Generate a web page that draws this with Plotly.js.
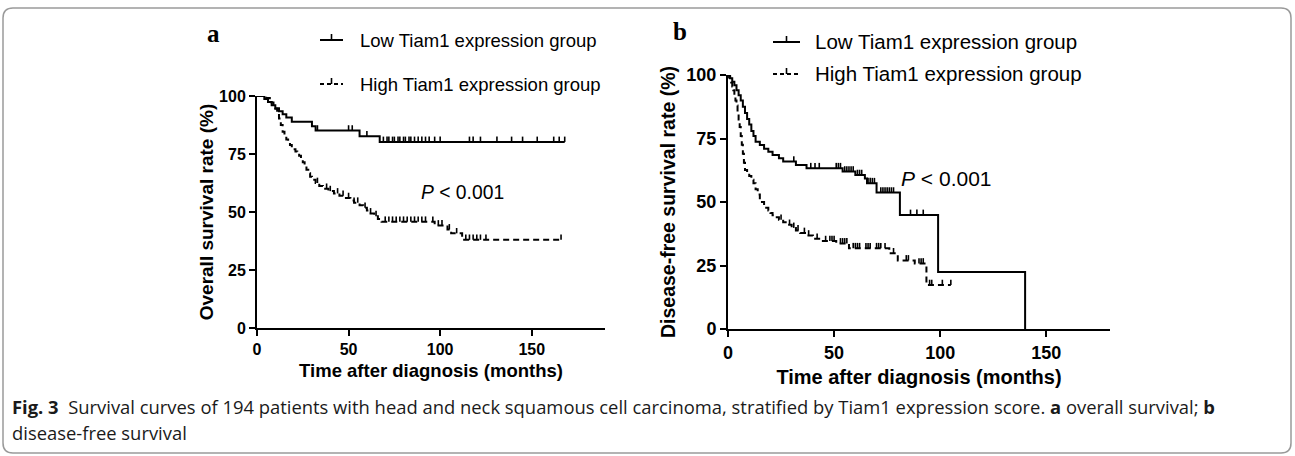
<!DOCTYPE html>
<html><head><meta charset="utf-8">
<script src="https://cdn.plot.ly/plotly-3.0.1.min.js"></script>
<style>html,body{margin:0;padding:0;background:#fff}#chart{width:1295px;height:456px}</style>
</head><body><div id="chart"></div>
<script>
// ---------- Panel a: overall survival ----------
var lowOS_t = [4, 6, 8, 10, 12, 14, 16, 19, 30, 32, 56, 67];
var lowOS_s = [98.7, 97.4, 96.0, 94.7, 93.4, 92.1, 90.7, 88.9, 87.0, 85.1, 82.6, 80.2];
var lowOS_cens = [33, 50, 52, 60, 69, 71, 72, 74, 75, 77, 78, 80, 81, 83, 84, 86, 88, 90, 92, 94, 97, 100, 116, 118, 122, 131, 139, 145, 153, 162, 165, 168];

var highOS_t = [5, 7, 8, 9, 10, 11, 12, 13, 14, 15, 16, 17, 18, 19, 20, 21, 22, 23, 24, 25, 26, 27, 28, 29, 30, 32, 34, 36, 39, 42, 45, 48, 51, 53, 56, 58, 60, 62, 64, 66, 68, 97, 104, 106, 112];
var highOS_s = [99.1, 98.2, 97.2, 96.3, 94.5, 92.6, 90.3, 87.5, 84.6, 82.7, 81.2, 80.0, 78.9, 77.9, 77.0, 76.1, 75.2, 74.2, 72.9, 71.4, 69.8, 68.2, 66.7, 65.2, 63.9, 62.5, 61.2, 60.0, 59.0, 58.0, 57.0, 56.0, 55.0, 54.0, 52.9, 51.8, 50.6, 49.4, 48.2, 47.0, 45.8, 44.2, 42.5, 40.8, 38.0];
var highOS_cens = [33, 38, 40, 44, 47, 50, 53, 55, 59, 62, 65, 70, 72, 74, 76, 78, 80, 82, 84, 86, 88, 90, 92, 96, 99, 101, 105, 109, 114, 116, 118, 120, 122, 125, 166];

// ---------- Panel b: disease-free survival ----------
var lowDFS_t = [1, 2, 3, 4, 5, 6, 7, 8, 9, 10, 11, 12, 13, 15, 17, 19, 21, 24, 26, 32, 37, 54, 60, 64.5, 65.5, 70, 81, 99, 140];
var lowDFS_s = [98.7, 97.3, 96.0, 94.0, 92.0, 90.0, 87.5, 85.0, 82.7, 80.5, 78.0, 76.0, 73.7, 72.4, 71.0, 69.8, 68.5, 67.2, 65.9, 64.6, 63.3, 62.0, 60.6, 59.3, 57.4, 53.7, 44.9, 22.4, 0];
var lowDFS_cens = [31, 39, 41, 43, 51, 52, 53, 55, 56, 57, 58, 59, 61, 62, 63, 66, 67, 68, 69, 72, 73, 74, 75, 76, 77, 78, 86, 89, 92];

var highDFS_t = [0.5, 1, 1.5, 2, 2.5, 3, 3.5, 4, 4.5, 5, 5.5, 6, 6.5, 7, 7.5, 8, 9, 10, 11, 12, 13, 14, 15, 16, 17, 18, 19, 20, 21, 22, 24, 26, 28, 30, 32, 34, 37, 40, 44, 51, 57, 76, 80, 88, 93.5];
var highDFS_s = [99, 98, 97, 95.5, 94, 92, 90, 88, 85.5, 82.5, 79.5, 76, 72.5, 69, 65.5, 62.6, 61.5, 60.2, 58.8, 57.4, 55.0, 53.0, 51.5, 50.0, 48.8, 47.7, 46.7, 45.7, 44.8, 44.0, 43.0, 42.0, 41.0, 39.8, 38.8, 37.8, 36.8, 35.5, 34.6, 33.7, 31.8, 29.8, 27.0, 25.8, 17.3];
var highDFS_cens = [25, 29, 31, 33, 36, 38, 42, 46, 48, 49, 50, 53, 54, 55, 56, 59, 60, 61, 62, 65, 66, 67, 70, 71, 72, 74, 78, 84, 85, 90, 91, 92, 95, 96, 101, 105];

var xTicks = [0, 50, 100, 150];
var yTicks = [0, 25, 50, 75, 100];
var groupNames = ['Low Tiam1 expression group', 'High Tiam1 expression group'];

// ---------- helpers ----------
function survAt(t, s, c) {
  var v = 100;
  for (var i = 0; i < t.length; i++) { if (t[i] <= c) v = s[i]; }
  return v;
}
function stepTrace(t, s, cens, xa, ya, dash, name) {
  var x = [0], y = [100];
  for (var i = 0; i < t.length; i++) { x.push(t[i]); y.push(s[i]); }
  var lastC = Math.max.apply(null, cens);
  if (lastC > t[t.length - 1]) { x.push(lastC); y.push(s[s.length - 1]); }
  return {type: 'scatter', mode: 'lines', x: x, y: y, xaxis: xa, yaxis: ya, name: name,
    showlegend: false, hoverinfo: 'skip',
    line: {shape: 'hv', color: '#000', width: 2, dash: dash}};
}
// censor marks: short upward ticks (one-sided error bars on invisible points)
function censTrace(t, s, cens, xa, ya, name, tickUnits) {
  return {type: 'scatter', mode: 'markers', x: cens, y: cens.map(function (c) { return survAt(t, s, c); }),
    xaxis: xa, yaxis: ya, name: name + ' (censored)', showlegend: false, cliponaxis: false,
    marker: {size: 1, color: 'rgba(0,0,0,0)'},
    error_y: {type: 'constant', symmetric: false, value: tickUnits, valueminus: 0, width: 0, thickness: 1.6, color: '#000'}};
}

var data = [
  stepTrace(lowOS_t, lowOS_s, lowOS_cens, 'x', 'y', 'solid', groupNames[0]),
  censTrace(lowOS_t, lowOS_s, lowOS_cens, 'x', 'y', groupNames[0], 2.3),
  stepTrace(highOS_t, highOS_s, highOS_cens, 'x', 'y', '6px,4px', groupNames[1]),
  censTrace(highOS_t, highOS_s, highOS_cens, 'x', 'y', groupNames[1], 2.3),
  stepTrace(lowDFS_t, lowDFS_s, lowDFS_cens, 'x2', 'y2', 'solid', groupNames[0]),
  censTrace(lowDFS_t, lowDFS_s, lowDFS_cens, 'x2', 'y2', groupNames[0], 2.1),
  stepTrace(highDFS_t, highDFS_s, highDFS_cens, 'x2', 'y2', '6px,4px', groupNames[1]),
  censTrace(highDFS_t, highDFS_s, highDFS_cens, 'x2', 'y2', groupNames[1], 2.1)
];

var W = 1295, H = 456;
function px(x) { return x / W; }
function py(y) { return 1 - y / H; }

var FONT = 'Liberation Sans, Arial, sans-serif';
function xAxis(dom, range, anchor, tsz, titsz, standoff) {
  return {domain: dom, range: range, anchor: anchor, tickvals: xTicks, ticks: 'outside', ticklen: 6, tickwidth: 2,
    tickcolor: '#000', showline: true, linewidth: 2, linecolor: '#000', showgrid: false, zeroline: false,
    tickfont: {family: FONT, size: tsz, color: '#000', weight: 'bold'}, automargin: false, fixedrange: true,
    title: {text: 'Time after diagnosis (months)', standoff: standoff, font: {family: FONT, size: titsz, color: '#000', weight: 'bold'}}};
}
function yAxis(dom, anchor, tsz, titsz, text, standoff) {
  return {domain: dom, range: [0, 100], anchor: anchor, tickvals: yTicks, ticks: 'outside', ticklen: 6, tickwidth: 2,
    tickcolor: '#000', showline: true, linewidth: 2, linecolor: '#000', showgrid: false, zeroline: false,
    tickfont: {family: FONT, size: tsz, color: '#000', weight: 'bold'}, automargin: false, fixedrange: true,
    title: {text: text, standoff: standoff, font: {family: FONT, size: titsz, color: '#000', weight: 'bold'}}};
}

var shapes = [];
// outer rounded frame
(function () {
  var x0 = 3, x1 = 1291, y0 = 8, y1 = 453, r = 10;
  var p = 'M ' + px(x0 + r) + ',' + py(y0) + ' L ' + px(x1 - r) + ',' + py(y0) +
    ' Q ' + px(x1) + ',' + py(y0) + ' ' + px(x1) + ',' + py(y0 + r) +
    ' L ' + px(x1) + ',' + py(y1 - r) + ' Q ' + px(x1) + ',' + py(y1) + ' ' + px(x1 - r) + ',' + py(y1) +
    ' L ' + px(x0 + r) + ',' + py(y1) + ' Q ' + px(x0) + ',' + py(y1) + ' ' + px(x0) + ',' + py(y1 - r) +
    ' L ' + px(x0) + ',' + py(y0 + r) + ' Q ' + px(x0) + ',' + py(y0) + ' ' + px(x0 + r) + ',' + py(y0) + ' Z';
  shapes.push({type: 'path', xref: 'paper', yref: 'paper', path: p, line: {color: '#9a9a9a', width: 1.5}});
})();
// legend glyphs
function legendGlyph(x0, x1, y, dashed) {
  shapes.push({type: 'line', xref: 'paper', yref: 'paper', x0: px(x0), x1: px(x1), y0: py(y), y1: py(y),
    line: {color: '#000', width: 2, dash: dashed ? '4px,3px' : 'solid'}});
  var xm = (x0 + x1) / 2;
  shapes.push({type: 'line', xref: 'paper', yref: 'paper', x0: px(xm), x1: px(xm), y0: py(y), y1: py(y - 6),
    line: {color: '#000', width: 1.6}});
}
legendGlyph(320, 343, 40, false);
legendGlyph(320, 343, 84, true);
legendGlyph(773, 800, 42, false);
legendGlyph(773, 800, 74, true);

var annotations = [];
function ann(text, x, y, size, opts) {
  var a = {text: text, xref: 'paper', yref: 'paper', x: px(x), y: py(y), showarrow: false,
    xanchor: 'left', yanchor: 'middle', font: {family: FONT, size: size, color: '#000'}};
  for (var k in opts) a[k] = opts[k];
  annotations.push(a);
}
ann('<b>a</b>', 205, 33, 25, {font: {family: 'Liberation Serif, Times New Roman, serif', size: 25, color: '#000'}});
ann('<b>b</b>', 671, 31, 25, {font: {family: 'Liberation Serif, Times New Roman, serif', size: 25, color: '#000'}});
ann(groupNames[0], 358, 40, 18.5);
ann(groupNames[1], 358, 84, 18.5);
ann(groupNames[0], 813, 42, 20.5);
ann(groupNames[1], 813, 74, 20.5);
ann('<i>P</i> &lt; 0.001', 419, 192, 19.3);
ann('<i>P</i> &lt; 0.001', 899, 178, 21);
var CAP = 'Open Sans, Noto Sans, sans-serif';
ann('<b>Fig. 3</b>  Survival curves of 194 patients with head and neck squamous cell carcinoma, stratified by Tiam1 expression score. <b>a</b> overall survival; <b>b</b>', 10, 406, 18.4, {font: {family: CAP, size: 18.4, color: '#1a1a1a'}});
ann('disease-free survival', 10, 432, 18.4, {font: {family: CAP, size: 18.4, color: '#1a1a1a'}});

var layout = {
  width: W, height: H, margin: {l: 0, r: 0, t: 0, b: 0}, paper_bgcolor: '#fff', plot_bgcolor: '#fff',
  showlegend: false,
  xaxis: xAxis([px(257), px(605)], [0, 190], 'y', 16, 18.5, 7),
  yaxis: yAxis([py(328), py(96)], 'x', 16, 19, 'Overall survival rate (%)', 0),
  xaxis2: xAxis([px(728), px(1110)], [0, 180], 'y2', 18, 20, 8),
  yaxis2: yAxis([py(329), py(75)], 'x2', 18, 19.5, 'Disease-free survival rate (%)', 6),
  shapes: shapes, annotations: annotations
};
Plotly.newPlot('chart', data, layout, {displayModeBar: false, staticPlot: true});
</script></body></html>
